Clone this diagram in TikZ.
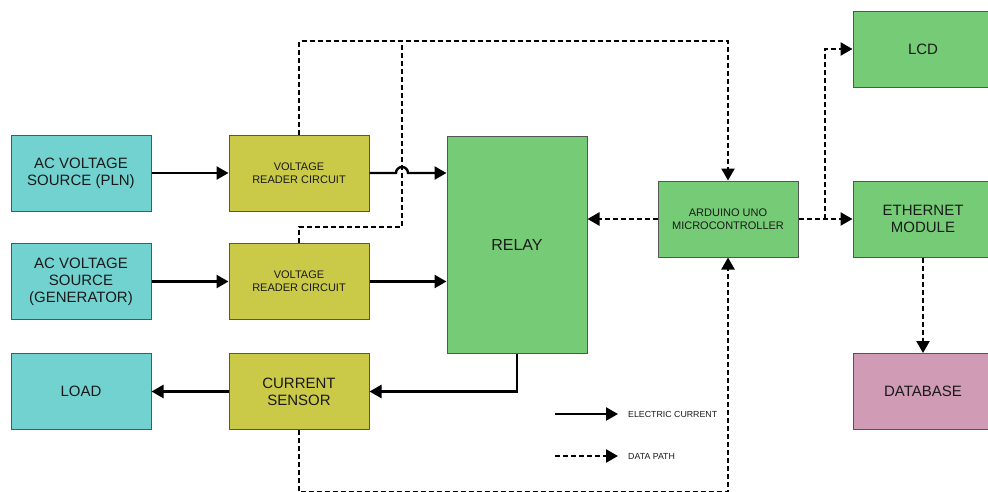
\documentclass[tikz,border=0pt]{standalone}
\usepackage{fontspec}
\setmainfont{Liberation Sans}
\usetikzlibrary{arrows.meta}
\definecolor{cyanbox}{HTML}{72D2CF}
\definecolor{olivebox}{HTML}{CACA48}
\definecolor{greenbox}{HTML}{76CC76}
\definecolor{pinkbox}{HTML}{D09BB5}
\definecolor{edgegray}{HTML}{555555}
\definecolor{txt}{HTML}{1A1A1A}
\tikzset{
  blk/.style={draw=edgegray, line width=1pt, minimum width=140pt, minimum height=76pt,
    inner sep=0pt, align=center, text=txt, font=\fontsize{15}{17}\selectfont},
  srcbox/.style={blk, fill=cyanbox},
  olbox/.style={blk, fill=olivebox},
  grbox/.style={blk, fill=greenbox},
  pkbox/.style={blk, fill=pinkbox},
  smalltext/.style={font=\fontsize{11}{13}\selectfont},
  elec/.style={line width=2.4pt, -{Triangle[length=12pt,width=13pt]}},
  datap/.style={line width=2.4pt, dash pattern=on 5pt off 3pt, -{Triangle[length=12pt,width=13pt]}},
  dataline/.style={line width=2.4pt, dash pattern=on 5pt off 3pt},
}
\begin{document}
\begin{tikzpicture}[x=1pt,y=-1pt]
\clip (0,0) rectangle (988,491);
\fill[white] (0,0) rectangle (988,491);
% nodes
\node[srcbox] (pln) at (81,173) {AC VOLTAGE\\SOURCE (PLN)};
\node[srcbox] (gen) at (81,281.5) {AC VOLTAGE\\SOURCE\\(GENERATOR)};
\node[srcbox] (load) at (81,391.5) {LOAD};
\node[olbox, smalltext] (vrc1) at (299,173) {VOLTAGE\\READER CIRCUIT};
\node[olbox, smalltext] (vrc2) at (299,281.5) {VOLTAGE\\READER CIRCUIT};
\node[olbox] (cs) at (299,391.5) {CURRENT\\SENSOR};
\node[grbox, minimum height=217pt, font=\fontsize{16}{18}\selectfont] (relay) at (517,244.5) {RELAY};
\node[grbox, smalltext] (ard) at (728,219) {ARDUINO UNO\\MICROCONTROLLER};
\node[grbox] (lcd) at (923,49) {LCD};
\node[grbox] (eth) at (923,219) {ETHERNET\\MODULE};
\node[pkbox] (db) at (923,391.5) {DATABASE};
% coordinates
\coordinate (topy) at (0,41);
\coordinate (boty) at (0,492.2);
\coordinate (jog) at (402,227);
\coordinate (br) at (825,219);
% electric current
\draw[elec] (pln.east) -- (vrc1.west);
\draw[elec] (gen.east) -- (vrc2.west);
\draw[elec] (vrc1.east) -- (396,173) arc[start angle=180,end angle=360,radius=6] -- (vrc1.east -| relay.west);
\draw[elec] (vrc2.east) -- (vrc2.east -| relay.west);
\draw[elec] (relay.south) -- (relay.south |- cs.east) -- (cs.east);
\draw[elec] (cs.west) -- (load.east);
% data paths
\draw[datap] (vrc1.north) -- (vrc1.north |- topy) -- (ard.north |- topy) -- (ard.north);
\draw[dataline] (vrc2.north) |- (jog) -- (jog |- topy);
\draw[datap] (cs.south) -- (cs.south |- boty) -- (ard.south |- boty) -- (ard.south);
\draw[datap] (ard.west) -- (ard.west -| relay.east);
\draw[datap] (ard.east) -- (eth.west);
\draw[datap] (br) |- (lcd.west);
\draw[datap] (eth.south) -- (db.north);
% legend
\coordinate (l1a) at (555,414);
\coordinate (l1b) at (618,414);
\coordinate (l2a) at (555,456);
\coordinate (l2b) at (618,456);
\draw[elec] (l1a) -- (l1b);
\draw[datap] (l2a) -- (l2b);
\node[anchor=west, inner sep=0pt, text=txt, font=\fontsize{8.8}{10}\selectfont] (lg1) at (628,414) {ELECTRIC CURRENT};
\node[anchor=west, inner sep=0pt, text=txt, font=\fontsize{8.8}{10}\selectfont] (lg2) at (628,456) {DATA PATH};
\end{tikzpicture}
\end{document}
